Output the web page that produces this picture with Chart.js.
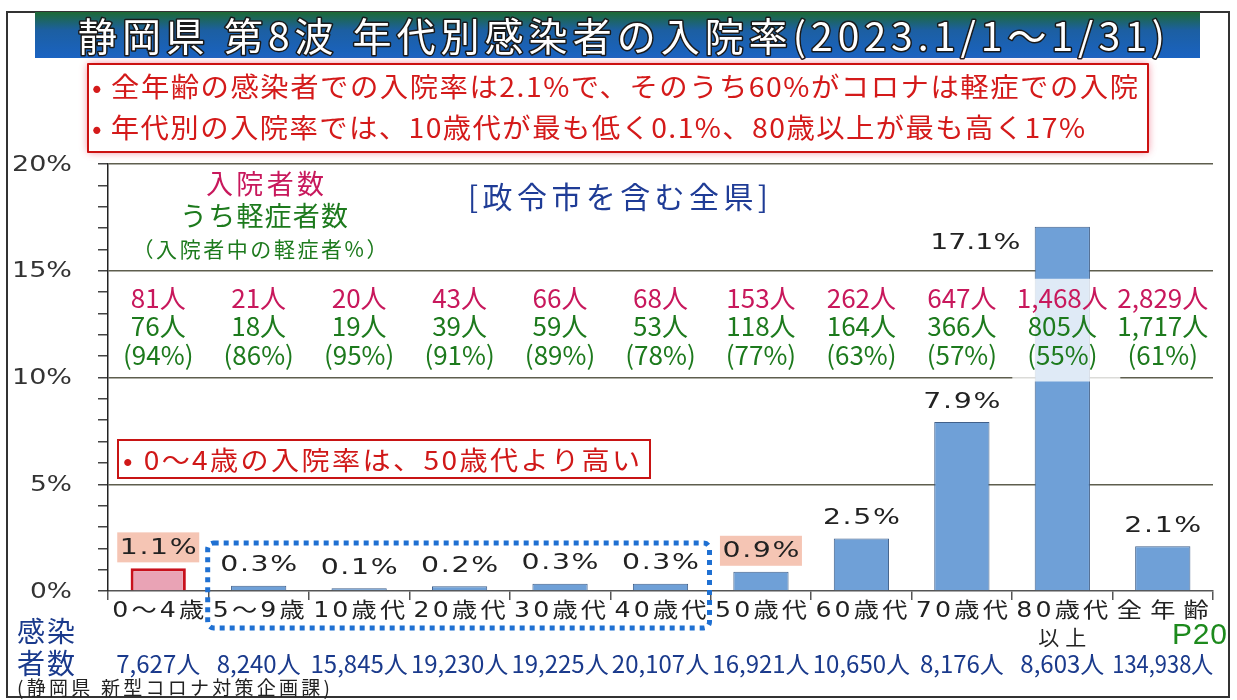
<!DOCTYPE html>
<html>
<head>
<meta charset="utf-8">
<script src="https://cdn.jsdelivr.net/npm/chart.js@4"></script>
<style>
  html, body { margin: 0; padding: 0; background: #fff; }
  canvas { display: block; }
</style>
</head>
<body>
<canvas id="chart" width="1237" height="700"></canvas>
<script>
// data
const ageGroups = ['0～4歳', '5～9歳', '10歳代', '20歳代', '30歳代', '40歳代', '50歳代', '60歳代', '70歳代', ['80歳代', '以上'], '全年齢'];
const hospRate = [1.06, 0.25, 0.13, 0.22, 0.34, 0.34, 0.90, 2.46, 7.91, 17.06, 2.10];
const rateLabels = ['1.1%', '0.3%', '0.1%', '0.2%', '0.3%', '0.3%', '0.9%', '2.5%', '7.9%', '17.1%', '2.1%'];
const hospitalized = ['81人', '21人', '20人', '43人', '66人', '68人', '153人', '262人', '647人', '1,468人', '2,829人'];
const mildCases = ['76人', '18人', '19人', '39人', '59人', '53人', '118人', '164人', '366人', '805人', '1,717人'];
const mildShare = ['(94%)', '(86%)', '(95%)', '(91%)', '(89%)', '(78%)', '(77%)', '(63%)', '(57%)', '(55%)', '(61%)'];
const infected = ['7,627人', '8,240人', '15,845人', '19,230人', '19,225人', '20,107人', '16,921人', '10,650人', '8,176人', '8,603人', '134,938人'];
const yTickLabels = [0, 5, 10, 15, 20];
const highlighted = [0, 6];

const JP = '"Noto Sans CJK JP", sans-serif';
const WIDE = '"DejaVu Sans", "Noto Sans CJK JP", sans-serif';

// draw text fitted to a width: stretch glyphs up to maxStretch, then letter-space
function spread(ctx, text, x, y, w, align, stroke, maxStretch) {
    ctx.letterSpacing = '0px';
    const n = [...text].length;
    const m = ctx.measureText(text).width;
    const left = align === 'left' ? x : align === 'right' ? x - w : x - w / 2;
    ctx.textAlign = 'left';
    if (m >= w || n < 2) {
        if (stroke) ctx.strokeText(text, left, y, w);
        ctx.fillText(text, left, y, w);
        return;
    }
    const s = Math.min(maxStretch || 1, w / m);
    const ls = (w - m * s) / (n - 1) / s;
    ctx.save();
    ctx.translate(left, y);
    ctx.scale(s, 1);
    ctx.letterSpacing = ls + 'px';
    if (stroke) ctx.strokeText(text, 0, 0);
    ctx.fillText(text, 0, 0);
    ctx.restore();
    ctx.letterSpacing = '0px';
}

const overlay = {
    id: 'overlay',
    afterDatasetsDraw(chart) {
        const ctx = chart.ctx;
        const xs = chart.scales.x;
        const ys = chart.scales.y;
        ctx.save();
        ctx.textBaseline = 'middle';

        // light panel over the 80+ bar behind its numbers
        const c9 = xs.getPixelForValue(9);
        ctx.fillStyle = 'rgba(255,255,255,0.78)';
        ctx.fillRect(c9 - 50, ys.getPixelForValue(15) + 8, 108, ys.getPixelForValue(10) - ys.getPixelForValue(15) - 4);

        // legend block
        ctx.fillStyle = '#c8185c';
        ctx.font = '27px ' + JP;
        spread(ctx, '入院者数', 265, 184, 118);
        ctx.fillStyle = '#1d7a1d';
        ctx.font = '27px ' + JP;
        spread(ctx, 'うち軽症者数', 264, 216, 168);
        ctx.font = '21px ' + JP;
        spread(ctx, '（入院者中の軽症者%）', 260, 249, 255);
        ctx.fillStyle = '#1f3c96';
        ctx.font = '30px ' + JP;
        spread(ctx, '[政令市を含む全県]', 618, 197, 300);

        // hospitalized / mild counts per column
        ctx.font = '26px ' + JP;
        ctx.textAlign = 'center';
        hospitalized.forEach((t, i) => {
            const cx = xs.getPixelForValue(i);
            ctx.fillStyle = '#c8185c';
            ctx.fillText(t, cx, 298, 98);
            ctx.fillStyle = '#1d7a1d';
            ctx.fillText(mildCases[i], cx, 326, 98);
            ctx.fillText(mildShare[i], cx, 355, 98);
        });

        // note box
        ctx.fillStyle = '#fff';
        ctx.fillRect(118, 440, 532, 38);
        ctx.strokeStyle = '#c81414';
        ctx.lineWidth = 2;
        ctx.strokeRect(118, 440, 532, 38);
        ctx.fillStyle = '#d01818';
        ctx.font = '26px ' + JP;
        spread(ctx, '• 0～4歳の入院率は、50歳代より高い', 123, 460, 517, 'left', false, 1.08);

        // bar value labels
        ctx.font = '21px ' + WIDE;
        rateLabels.forEach((t, i) => {
            const top = ys.getPixelForValue(hospRate[i]);
            let cx = xs.getPixelForValue(i);
            let cy = top - 21;
            if (hospRate[i] > 15) { cx -= 87; cy = top + 16; }
            const w = t.length === 5 ? 90 : 77;
            if (highlighted.includes(i)) {
                ctx.fillStyle = 'rgba(236,150,118,0.55)';
                ctx.fillRect(cx - 41, cy - 15, 82, 30);
            }
            ctx.fillStyle = '#222';
            spread(ctx, t, cx, cy + 1, w, 'center', false, 1.35);
        });

        // dotted group box
        ctx.strokeStyle = '#1f70d2';
        ctx.lineWidth = 5;
        ctx.setLineDash([5, 5]);
        ctx.beginPath();
        ctx.roundRect(xs.getPixelForValue(1) - 51, 543, xs.getPixelForValue(5) - xs.getPixelForValue(1) + 100, 85, 6);
        ctx.stroke();
        ctx.setLineDash([]);
        ctx.restore();
    },
    afterDraw(chart) {
        const ctx = chart.ctx;
        const xs = chart.scales.x;
        const ys = chart.scales.y;
        ctx.save();
        ctx.textBaseline = 'middle';

        // frame
        ctx.strokeStyle = '#333';
        ctx.lineWidth = 2;
        ctx.strokeRect(7, 12, 1222, 685);

        // title bar
        const g = ctx.createLinearGradient(0, 12, 0, 58);
        g.addColorStop(0, '#1d6a34');
        g.addColorStop(0.4, '#1c5fa2');
        g.addColorStop(1, '#1a63c2');
        ctx.fillStyle = g;
        ctx.fillRect(35, 12, 1165, 46);
        ctx.font = '39px ' + JP;
        ctx.strokeStyle = '#1a1a1a';
        ctx.lineWidth = 3;
        ctx.lineJoin = 'round';
        ctx.fillStyle = '#fff';
        spread(ctx, '静岡県 第8波 年代別感染者の入院率(2023.1/1～1/31)', 78, 36, 1087, 'left', true);

        // red summary box
        ctx.shadowColor = 'rgba(235,70,100,0.7)';
        ctx.shadowBlur = 8;
        ctx.fillStyle = '#fff';
        ctx.fillRect(88, 64, 1060, 88);
        ctx.shadowBlur = 0;
        ctx.shadowColor = 'transparent';
        ctx.strokeStyle = '#cc1111';
        ctx.lineWidth = 2;
        ctx.strokeRect(88, 64, 1060, 88);
        ctx.fillStyle = '#d41a1a';
        ctx.font = '27px ' + JP;
        spread(ctx, '• 全年齢の感染者での入院率は2.1%で、そのうち60%がコロナは軽症での入院', 92, 87, 1046, 'left', false, 1.05);
        spread(ctx, '• 年代別の入院率では、10歳代が最も低く0.1%、80歳以上が最も高く17%', 92, 128, 993, 'left', false, 1.05);

        // y tick labels
        ctx.fillStyle = '#333';
        ctx.font = '22px ' + WIDE;
        yTickLabels.forEach(v => {
            const t = v + '%';
            spread(ctx, t, 72, ys.getPixelForValue(v) + 1, t.length === 3 ? 60 : 42, 'right', false, 1.4);
        });

        // x category labels
        ctx.fillStyle = '#222';
        ctx.font = '21px ' + WIDE;
        ageGroups.forEach((lab, i) => {
            const cx = xs.getPixelForValue(i);
            const lines = Array.isArray(lab) ? lab : [lab];
            spread(ctx, lines[0], cx, 612, 92, 'center', false, 1.2);
            if (lines[1]) spread(ctx, lines[1], cx, 640, 48);
        });

        // infected counts
        ctx.fillStyle = '#1a3a8c';
        ctx.font = '28px ' + JP;
        spread(ctx, '感染', 17, 631, 58, 'left');
        spread(ctx, '者数', 17, 663, 58, 'left');
        ctx.font = '24px ' + JP;
        ctx.textAlign = 'center';
        infected.forEach((t, i) => {
            ctx.fillText(t, xs.getPixelForValue(i), 664, 101);
        });

        ctx.fillStyle = '#1d8a1d';
        ctx.font = '30px "Liberation Sans Narrow", "Liberation Sans", sans-serif';
        spread(ctx, 'P20', 1172, 636, 55, 'left');

        ctx.fillStyle = '#222';
        ctx.font = '19px ' + JP;
        spread(ctx, '(静岡県 新型コロナ対策企画課)', 17, 688, 313, 'left');
        ctx.restore();
    }
};

const ctx = document.getElementById('chart').getContext('2d');
new Chart(ctx, {
    type: 'bar',
    data: {
        labels: ageGroups,
        datasets: [{
            data: hospRate,
            backgroundColor: hospRate.map((v, i) => i === 0 ? '#e9a3b5' : '#6fa0d7'),
            borderColor: hospRate.map((v, i) => i === 0 ? '#c8101c' : '#41608a'),
            borderWidth: hospRate.map((v, i) => i === 0 ? 3 : 1),
            barPercentage: 0.55,
            categoryPercentage: 1.0
        }]
    },
    options: {
        responsive: false,
        animation: false,
        devicePixelRatio: 1,
        layout: { padding: { left: 12, top: 164, right: 24, bottom: 0 } },
        plugins: { legend: { display: false }, tooltip: { enabled: false } },
        scales: {
            x: {
                ticks: { display: false },
                grid: { drawOnChartArea: false, drawTicks: true, tickLength: 9, color: '#555', lineWidth: 1.5 },
                border: { color: '#555', width: 1.5 },
                afterFit: scale => { scale.height = 109; }
            },
            y: {
                min: 0,
                max: 20,
                ticks: { display: false, stepSize: 1, autoSkip: false },
                grid: {
                    drawTicks: true,
                    tickLength: 10,
                    tickColor: '#444',
                    lineWidth: 1.5,
                    color: c => (c.tick && c.tick.value > 0 && c.tick.value % 5 === 0) ? '#5e5e4e' : 'rgba(0,0,0,0)'
                },
                border: { color: '#222', width: 1.5 },
                afterFit: scale => { scale.width = 96; }
            }
        }
    },
    plugins: [overlay]
});
</script>
</body>
</html>
